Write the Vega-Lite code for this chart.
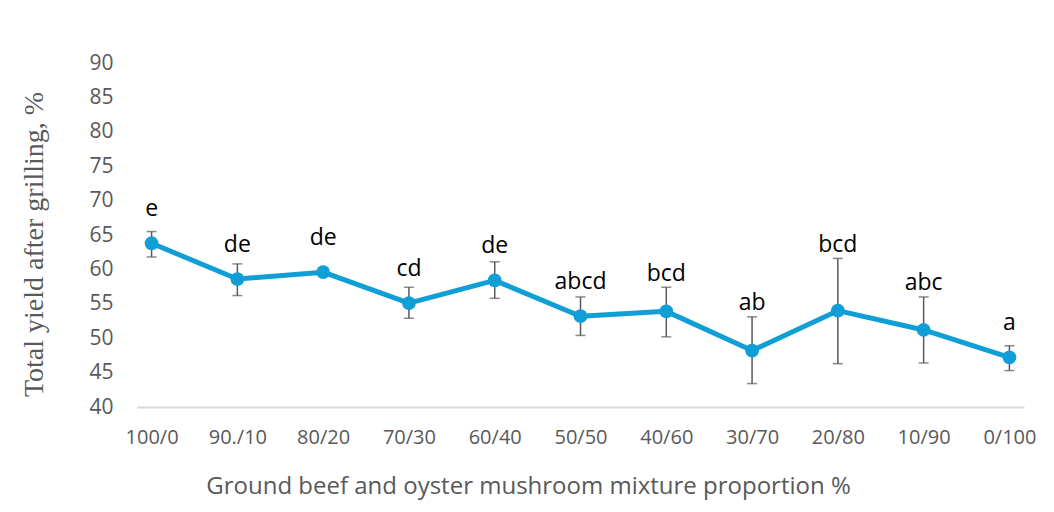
{
  "$schema": "https://vega.github.io/schema/vega-lite/v6.json",
  "width": 887,
  "height": 344,
  "autosize": "none",
  "padding": {"left": 137, "top": 63, "right": 30, "bottom": 105},
  "background": "white",
  "config": {
    "view": {"stroke": null},
    "font": "Open Sans",
    "axisY": {
      "values": [40, 45, 50, 55, 60, 65, 70, 75, 80, 85, 90],
      "labelOverlap": false,
      "grid": false,
      "domain": false,
      "ticks": false,
      "labelFont": "Open Sans",
      "labelFontSize": 21,
      "labelColor": "#595959",
      "labelPadding": 24,
      "titleFont": "Liberation Serif",
      "titleFontSize": 28,
      "titleFontWeight": "normal",
      "titleColor": "#595959",
      "titleAngle": -90,
      "titleAlign": "center",
      "titleBaseline": "middle",
      "titleX": -103,
      "titleY": 181
    }
  },
  "data": {
    "values": [
      {"mix": "100/0", "mean": 63.8, "lower": 61.8, "upper": 65.5, "group": "e"},
      {"mix": "90./10", "mean": 58.6, "lower": 56.2, "upper": 60.8, "group": "de"},
      {"mix": "80/20", "mean": 59.6, "lower": 59.2, "upper": 60.0, "group": "de"},
      {"mix": "70/30", "mean": 55.1, "lower": 52.9, "upper": 57.4, "group": "cd"},
      {"mix": "60/40", "mean": 58.4, "lower": 55.8, "upper": 61.1, "group": "de"},
      {"mix": "50/50", "mean": 53.2, "lower": 50.4, "upper": 56.0, "group": "abcd"},
      {"mix": "40/60", "mean": 53.9, "lower": 50.2, "upper": 57.4, "group": "bcd"},
      {"mix": "30/70", "mean": 48.2, "lower": 43.4, "upper": 53.1, "group": "ab"},
      {"mix": "20/80", "mean": 54.0, "lower": 46.3, "upper": 61.6, "group": "bcd"},
      {"mix": "10/90", "mean": 51.2, "lower": 46.4, "upper": 56.0, "group": "abc"},
      {"mix": "0/100", "mean": 47.2, "lower": 45.3, "upper": 48.9, "group": "a"}
    ]
  },
  "encoding": {
    "x": {
      "field": "mix",
      "type": "ordinal",
      "sort": null,
      "scale": {"type": "point", "padding": 0.17},
      "axis": {
        "title": "Ground beef and oyster mushroom mixture proportion %",
        "labelAngle": 0,
        "labelFont": "Open Sans",
        "labelFontSize": 20,
        "labelColor": "#595959",
        "labelPadding": 20,
        "ticks": false,
        "domainColor": "#d9d9d9",
        "domainWidth": 2,
        "titleFont": "Open Sans",
        "titleFontSize": 24,
        "titleFontWeight": "normal",
        "titleColor": "#595959",
        "titleX": 391,
        "titleY": 86,
        "titleBaseline": "alphabetic"
      }
    }
  },
  "layer": [
    {
      "mark": {"type": "rule", "color": "#595959", "strokeWidth": 1.5},
      "encoding": {
        "y": {
          "field": "lower",
          "type": "quantitative",
          "title": "Total yield after grilling, %",
          "scale": {"domain": [40, 90], "nice": false, "zero": false}
        },
        "y2": {"field": "upper"}
      }
    },
    {
      "mark": {"type": "tick", "color": "#595959", "thickness": 1.5, "size": 10},
      "encoding": {"y": {"field": "upper", "type": "quantitative"}}
    },
    {
      "mark": {"type": "tick", "color": "#595959", "thickness": 1.5, "size": 10},
      "encoding": {"y": {"field": "lower", "type": "quantitative"}}
    },
    {
      "mark": {"type": "line", "color": "#0F9ED5", "strokeWidth": 5, "strokeJoin": "round"},
      "encoding": {"y": {"field": "mean", "type": "quantitative"}}
    },
    {
      "mark": {"type": "point", "filled": true, "opacity": 1, "color": "#0F9ED5", "size": 190},
      "encoding": {"y": {"field": "mean", "type": "quantitative"}}
    },
    {
      "transform": [
        {"calculate": "max(datum.mean + 5, datum.upper + 2)", "as": "label_pos"}
      ],
      "mark": {"type": "text", "font": "Open Sans", "fontSize": 23, "color": "black", "baseline": "middle"},
      "encoding": {
        "y": {"field": "label_pos", "type": "quantitative"},
        "text": {"field": "group"}
      }
    }
  ]
}
